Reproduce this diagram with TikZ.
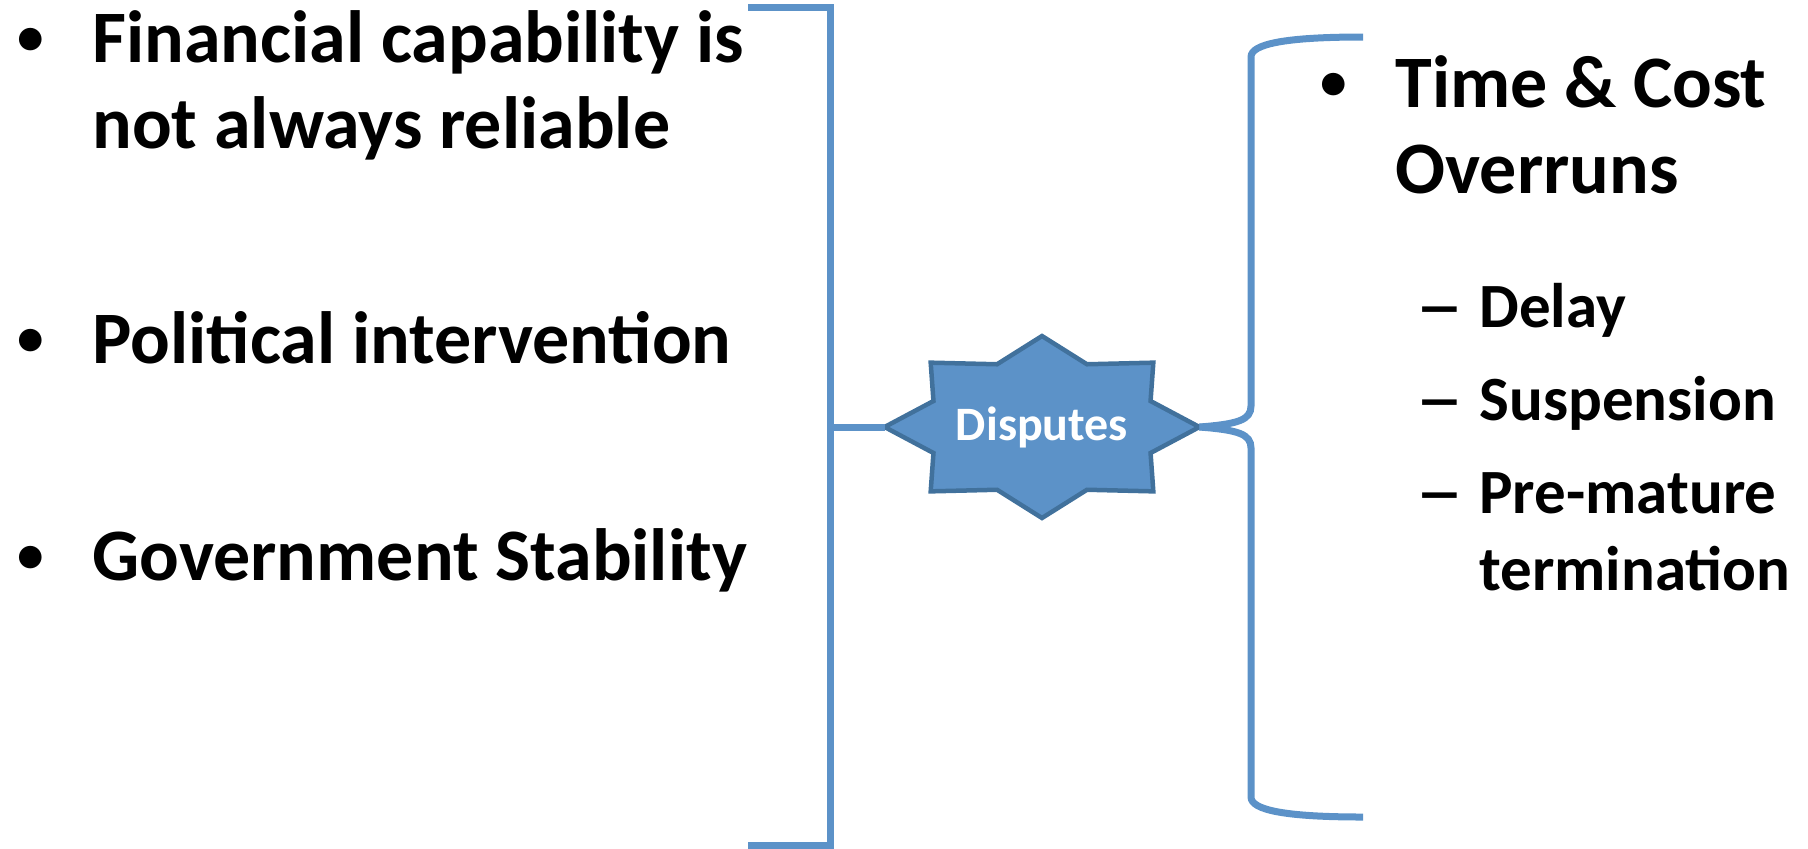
\documentclass[tikz,border=0pt]{standalone}
\usepackage{fontspec}
\setmainfont{Carlito}
\usetikzlibrary{shapes.geometric}
\definecolor{azul}{RGB}{92,146,200}
\definecolor{azuloscuro}{RGB}{65,113,156}
\newcommand\blt{\llap{\raisebox{4pt}{\scalebox{0.72}{\textbullet}}\hspace{24pt}}}
\newcommand\dsh{\llap{\scalebox{0.75}[1]{\textemdash}\hspace{9pt}}}
\begin{document}
\begin{tikzpicture}[x=0.5pt, y=-0.5pt,
    linea/.style={draw=azul, line width=3.5pt},
    item/.style={anchor=base west, align=left, inner sep=0pt,
      font=\bfseries\fontsize{37}{43}\selectfont},
    subitem/.style={item, font=\bfseries\fontsize{31.5}{38.5}\selectfont}]
  \useasboundingbox (0,0) rectangle (1808,848);
  % corchete izquierdo
  \coordinate (li1) at (748,7);
  \coordinate (li2) at (830,7);
  \coordinate (li3) at (830,845);
  \coordinate (li4) at (748,845);
  \draw[linea] (li1) -- (li2) -- (li3) -- (li4);
  \node[item] (fin) at (92,148) {\blt Financial capability is\\not always reliable};
  \node[item] (pol) at (92,363) {\blt Political intervention};
  \node[item] (gov) at (92,580) {\blt Government Stability};
  % estrella de 8 puntas
  \node[star, star points=8, star point ratio=1.34, minimum size=91pt,
        inner sep=0pt, outer sep=0pt, xscale=1.73, transform shape,
        fill=azul, draw=azuloscuro, line width=2.25pt] (estrella) at (1042,427) {};
  \node[font=\bfseries\fontsize{24}{28}\selectfont, text=white] (disp) at (estrella) {Disputes};
  \draw[linea] (estrella.west) -- (estrella.west -| li2);
  % llave derecha
  \coordinate (ld1) at (1363,37);
  \coordinate (ld2) at (1363,817);
  \draw[linea] (estrella.east) .. controls (1238,424) and (1251,420) .. (1251,406)
    -- (1251,57) .. controls (1251,44) and (1285,37) .. (ld1);
  \draw[linea] (estrella.east) .. controls (1238,430) and (1251,434) .. (1251,448)
    -- (1251,797) .. controls (1251,810) and (1285,817) .. (ld2);
  \node[item] (ovr) at (1395,193) {\blt Time \& Cost\\Overruns};
  \node[subitem] (dly) at (1479,327) {\dsh Delay};
  \node[subitem] (ssp) at (1479,420) {\dsh Suspension};
  \node[subitem] (pmt) at (1479,590) {\dsh Pre-mature\\termination};
\end{tikzpicture}
\end{document}
